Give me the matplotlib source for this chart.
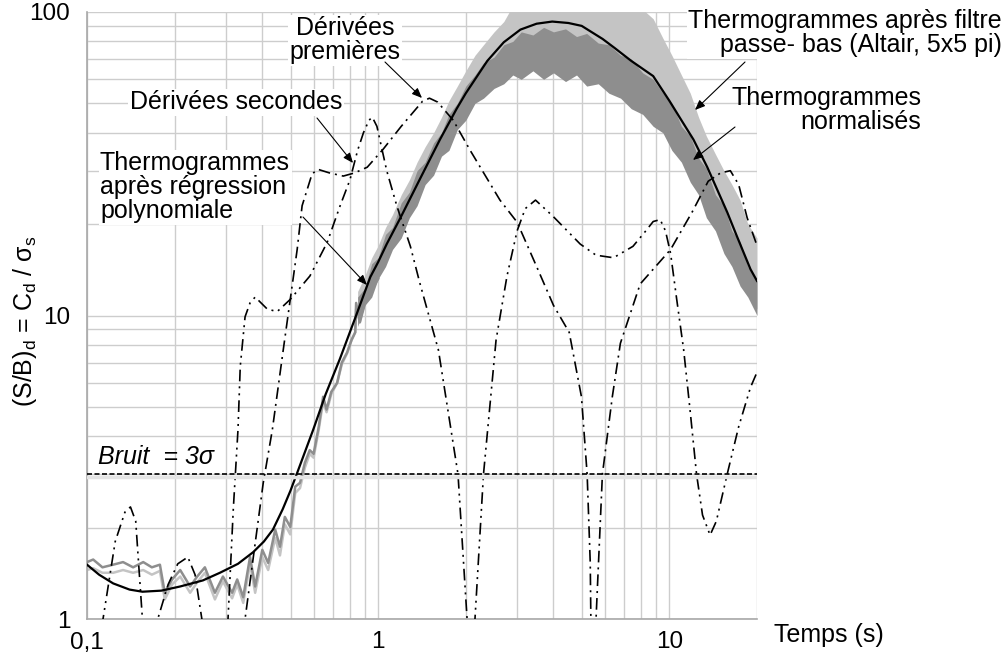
import matplotlib
matplotlib.use("Agg")
import matplotlib.pyplot as plt
import matplotlib.transforms as mtransforms
from matplotlib.ticker import LogLocator, NullFormatter

# =====================================================
# Style
# =====================================================
plt.rcParams['font.family'] = ['Liberation Sans', 'DejaVu Sans']
plt.rcParams['mathtext.fontset'] = 'custom'
plt.rcParams['mathtext.rm'] = 'Liberation Sans'
plt.rcParams['mathtext.it'] = 'Liberation Sans:italic'

GRID_COLOR = "#cdcdcd"
LIGHT_GREY = "#c4c4c4"   # thermogrammes après filtre passe-bas
DARK_GREY = "#8e8e8e"    # thermogrammes normalisés
DASH_DOT = (0, (7, 3, 1.2, 3))
DASH_DOT_DOT = (0, (7, 3, 1.2, 3, 1.2, 3))

# =====================================================
# Data
# =====================================================
# polynomial regression of thermograms
reg_t = [0.1, 0.11, 0.123, 0.14, 0.155, 0.18, 0.209, 0.25, 0.286, 0.33,
         0.372, 0.405, 0.435, 0.47, 0.5, 0.527, 0.598, 0.66, 0.739, 0.84,
         0.94, 1.0, 1.07, 1.19, 1.4, 1.63, 1.86, 2.0, 2.37, 2.7, 3.08, 3.5,
         3.96, 4.5, 5.0, 5.9, 6.5, 7.4, 8.8, 10.0, 11.0, 12.1, 13.5, 15.8,
         17.0, 19.0, 20.0]
reg_sb = [1.51, 1.4, 1.31, 1.25, 1.23, 1.24, 1.28, 1.34, 1.42, 1.52,
          1.66, 1.8, 1.97, 2.3, 2.65, 3.03, 4.2, 5.5, 7.2, 10.0,
          13.4, 15.0, 17.2, 20.9, 28.5, 38.0, 48.0, 54.0, 69.0, 79.5, 87.5, 91.5,
          93.0, 92.0, 90.0, 81.5, 76.0, 69.0, 61.5, 51.0, 44.0, 38.0, 30.8, 21.9,
          18.4, 14.2, 13.0]

# raw thermograms, short times (few samples)
grey_t = [0.1, 0.105, 0.113, 0.123, 0.133, 0.144, 0.156, 0.167, 0.178, 0.185,
          0.196, 0.209, 0.226, 0.239, 0.254, 0.275, 0.293, 0.315, 0.328, 0.344,
          0.363, 0.378, 0.4, 0.419, 0.443, 0.46, 0.478, 0.499, 0.519, 0.539,
          0.56, 0.582, 0.6, 0.625, 0.647, 0.665, 0.69, 0.723, 0.75, 0.782,
          0.81, 0.834, 0.84, 0.865, 0.89, 0.917, 0.95, 1.0]
norm_sb = [1.54, 1.57, 1.48, 1.51, 1.54, 1.48, 1.54, 1.48, 1.51, 1.22,
           1.35, 1.45, 1.28, 1.38, 1.48, 1.22, 1.38, 1.22, 1.35, 1.18,
           1.6, 1.28, 1.69, 1.53, 1.97, 1.73, 2.17, 2.01, 2.73, 2.81,
           3.27, 3.6, 3.5, 4.3, 5.4, 4.9, 5.6, 6.0, 7.0, 7.55,
           8.3, 8.8, 11.0, 9.5, 10.5, 11.9, 12.2, 13.2]
filt_sb = [1.45, 1.47, 1.42, 1.42, 1.45, 1.42, 1.45, 1.4, 1.44, 1.16,
           1.3, 1.38, 1.22, 1.32, 1.42, 1.16, 1.33, 1.17, 1.3, 1.13,
           1.52, 1.22, 1.6, 1.45, 1.85, 1.62, 2.05, 1.9, 2.6, 2.7,
           3.15, 3.5, 3.4, 4.2, 5.2, 4.8, 5.5, 6.0, 6.9, 7.5,
           8.3, 8.8, 10.5, 9.5, 10.8, 12.2, 12.5, 13.6]

# raw thermograms, long times (dense noisy band: envelopes)
band_t = [0.85, 0.9, 0.95, 1.0, 1.06, 1.12, 1.2, 1.28, 1.36, 1.45,
          1.55, 1.65, 1.75, 1.87, 2.0, 2.15, 2.3, 2.5, 2.7, 2.9,
          3.1, 3.4, 3.7, 4.0, 4.4, 4.8, 5.2, 5.7, 6.2, 6.8,
          7.4, 8.1, 8.8, 9.5, 10.2, 11.0, 11.8, 12.6, 13.4, 14.4,
          15.4, 16.4, 17.5, 18.6, 20.0]
filt_hi = [12, 13.5, 15.5, 17, 19.5, 21.5, 25, 28, 32, 36,
           40, 45, 51, 57, 64, 72, 78, 86, 93, 105,
           110, 110, 110, 110, 110, 110, 110, 110, 110, 110,
           110, 102, 95, 82, 72, 62, 54, 45, 39, 34,
           30, 27, 24, 20, 18]
filt_lo = [9.5, 11, 12, 13.5, 15, 17, 18.5, 21.5, 24, 27.5,
           30, 34, 36, 42, 45, 51, 53, 57, 60, 63,
           62, 65, 62, 64, 61, 63, 59, 59, 55, 53,
           49, 47, 43, 41, 36, 33, 28.5, 26, 22, 20,
           17, 15, 13, 12, 10.5]
norm_hi = [11.5, 12.3, 14.8, 15.5, 18.5, 19.5, 23.5, 25.5, 30, 32,
           37, 40, 46, 50, 57, 62, 68, 71, 78, 80,
           86, 84, 89, 86, 88, 83, 85, 79, 78, 72,
           70, 63, 60, 54, 50, 42, 39, 33, 30.5, 25,
           23, 19, 17.5, 14.5, 13]
norm_lo = [9.2, 10.8, 11.5, 13.2, 14.5, 16.5, 18, 21, 23, 27,
           29, 33.5, 35, 41, 44, 50, 52, 56, 58, 62,
           60, 64, 60, 63, 59, 62, 57, 58, 54, 52,
           48, 46, 42, 40, 35, 32, 27.5, 25, 21, 19,
           16, 14.5, 12.5, 11.5, 10]

# first derivatives
d1_t = [0.1, 0.165, 0.175, 0.19, 0.205, 0.222, 0.235, 0.248, 0.26, 0.335,
        0.349, 0.403, 0.433, 0.472, 0.527, 0.548, 0.593, 0.622, 0.68, 0.759,
        0.83, 0.917, 1.04, 1.2, 1.42, 1.5, 1.6, 1.81, 2.07, 2.62, 3.0, 3.5,
        4.0, 4.53, 4.99, 5.22, 5.35, 5.45, 5.6, 5.89, 6.37, 6.79, 7.94, 10.1,
        12.0, 13.6, 15.0, 16.2, 17.3, 18.5, 20.0]
d1_sb = [0.3, 0.3, 1.0, 1.3, 1.52, 1.6, 1.4, 1.0, 0.3, 0.3,
         1.0, 2.81, 4.2, 7.7, 16.5, 23.0, 29.3, 30.3, 29.5, 28.8,
         29.5, 30.8, 35.3, 42.0, 50.8, 52.0, 50.5, 44.0, 35.0, 24.0, 20.3, 14.5,
         10.8, 8.8, 5.4, 3.0, 1.53, 0.3, 1.0, 3.0, 5.4, 8.1, 12.7, 16.5,
         22.0, 27.7, 29.5, 30.0, 27.0, 21.0, 17.0]

# second derivatives
d2_t = [0.1, 0.1135, 0.125, 0.135, 0.141, 0.147, 0.155, 0.165, 0.29, 0.305,
        0.318, 0.33, 0.336, 0.349, 0.363, 0.378, 0.416, 0.45, 0.499, 0.583,
        0.668, 0.739, 0.8, 0.85, 0.89, 0.93, 0.955, 0.99, 1.07, 1.16, 1.29,
        1.39, 1.61, 1.88, 2.02, 2.07, 2.15, 2.3, 2.54, 2.77, 3.0, 3.2, 3.47,
        3.99, 4.94, 5.6, 6.43, 7.5, 8.3, 8.8, 9.3, 9.7, 10.1, 10.6, 11.2,
        11.8, 12.4, 13.0, 13.8, 14.5, 15.8, 17.3, 19.0, 20.0]
d2_sb = [0.3, 1.0, 1.8, 2.25, 2.34, 2.1, 1.0, 0.3, 0.3, 1.0,
         2.3, 4.2, 6.8, 9.9, 11.0, 11.5, 10.5, 10.3, 11.3, 13.5,
         17.4, 22.9, 28.0, 35.0, 40.0, 44.0, 45.0, 42.0, 30.0, 22.9, 16.9,
         12.8, 7.7, 3.0, 1.0, 0.3, 1.0, 3.0, 8.3, 13.5, 19.0, 22.5, 24.0,
         21.2, 17.2, 15.8, 15.5, 16.9, 19.0, 20.4, 20.7, 19.0, 16.0, 11.3, 7.7,
         4.8, 3.0, 2.2, 1.89, 2.1, 3.0, 4.3, 5.8, 6.5]

NOISE_LEVEL = 3.0

# =====================================================
# Figure
# =====================================================
fig = plt.figure(figsize=(10.06, 6.56), dpi=100)
ax = fig.add_axes([87 / 1006, 37 / 656, 670 / 1006, 607 / 656])
ax.set_xscale('log')
ax.set_yscale('log')
ax.set_xlim(0.1, 20)
ax.set_ylim(1, 100)

# thermogram bands
ax.fill_between(band_t, filt_lo, filt_hi, color=LIGHT_GREY, lw=0, zorder=2)
ax.fill_between(band_t, norm_lo, norm_hi, color=DARK_GREY, lw=0, zorder=3)
ax.plot(grey_t, filt_sb, color=LIGHT_GREY, lw=1.8, zorder=2)
ax.plot(grey_t, norm_sb, color=DARK_GREY, lw=1.8, zorder=3)

# regression
ax.plot(reg_t, reg_sb, color='black', lw=1.6, zorder=5)

# derivatives
ax.plot(d1_t, d1_sb, color='black', lw=1.2, linestyle=DASH_DOT, zorder=4)
ax.plot(d2_t, d2_sb, color='black', lw=1.2, linestyle=DASH_DOT_DOT, zorder=4)

# noise level with a soft shadow underneath
shadow = ax.axhline(NOISE_LEVEL, color='#e4e4e4', lw=2.5, zorder=5.5)
shadow.set_transform(shadow.get_transform() +
                     mtransforms.ScaledTranslation(0, -2 / 72, fig.dpi_scale_trans))
ax.axhline(NOISE_LEVEL, color='black', lw=1.2, linestyle=(0, (3, 1.5)), zorder=6)

# axes
ax.set_xticks([0.1, 1, 10])
ax.set_xticklabels(["0,1", "1", "10"])
ax.set_yticks([1, 10, 100])
ax.set_yticklabels(["1", "10", "100"])
ax.xaxis.set_minor_locator(LogLocator(base=10, subs=range(2, 10), numticks=20))
ax.yaxis.set_minor_locator(LogLocator(base=10, subs=range(2, 10), numticks=20))
ax.xaxis.set_minor_formatter(NullFormatter())
ax.yaxis.set_minor_formatter(NullFormatter())
ax.tick_params(which='both', length=0, labelsize=17.5)
ax.tick_params(axis='x', pad=9)
ax.tick_params(axis='y', pad=12)
ax.grid(True, which='both', color=GRID_COLOR, lw=1.0, zorder=0)
ax.set_axisbelow(True)
for side in ['top', 'right']:
    ax.spines[side].set_visible(False)
for side in ['left', 'bottom']:
    ax.spines[side].set_color('#a8a8a8')
    ax.spines[side].set_linewidth(1.2)

ax.set_ylabel(r"(S/B)$_{\mathregular{d}}$ = C$_{\mathregular{d}}$ / σ$_{\mathregular{s}}$",
              fontsize=18)
ax.yaxis.set_label_coords(-0.072, 0.49)
ax.text(1.025, -0.026, "Temps (s)", transform=ax.transAxes, fontsize=18,
        ha='left', va='center', clip_on=False)

# =====================================================
# Labels and arrows
# =====================================================
def fx(px):
    return (px - 87) / 670


def fy(py):
    return (619 - py) / 607


box = dict(fc='white', ec='none', pad=1)
ax.text(fx(345), fy(40), "Dérivées\npremières", transform=ax.transAxes,
        fontsize=18, ha='center', va='center', linespacing=1.0, bbox=box, zorder=7)
ax.text(fx(236), fy(102), "Dérivées secondes", transform=ax.transAxes,
        fontsize=18, ha='center', va='center', bbox=box, zorder=7)
ax.text(fx(100), fy(187), "Thermogrammes\naprès régression\npolynomiale",
        transform=ax.transAxes, fontsize=18, ha='left', va='center',
        linespacing=1.0, bbox=box, zorder=7)
ax.text(fx(1002), fy(33), "Thermogrammes après filtre\npasse- bas (Altair, 5x5 pi)",
        transform=ax.transAxes, fontsize=18, ha='right', va='center',
        multialignment='right', linespacing=1.0, bbox=box, zorder=7, clip_on=False)
ax.text(fx(921), fy(110), "Thermogrammes\nnormalisés", transform=ax.transAxes,
        fontsize=18, ha='right', va='center', multialignment='right',
        linespacing=1.0, zorder=7, clip_on=False)
ax.text(fx(98), fy(457), "Bruit  = 3σ", transform=ax.transAxes, fontsize=18,
        style='italic', ha='left', va='center', zorder=7)

arrows = [
    ((385, 62), (422, 98)),
    ((317, 118), (353, 163)),
    ((303, 217), (367, 285)),
    ((745, 62), (695, 110)),
    ((735, 127), (693, 160)),
]
for (x0, y0), (x1, y1) in arrows:
    ax.annotate("", xy=(fx(x1), fy(y1)), xycoords='axes fraction',
                xytext=(fx(x0), fy(y0)), textcoords='axes fraction',
                arrowprops=dict(arrowstyle='-|>,head_length=0.6,head_width=0.25',
                                color='black', lw=0.8, shrinkA=0, shrinkB=0),
                zorder=8, annotation_clip=False)

fig.savefig("out.png", dpi=100)
